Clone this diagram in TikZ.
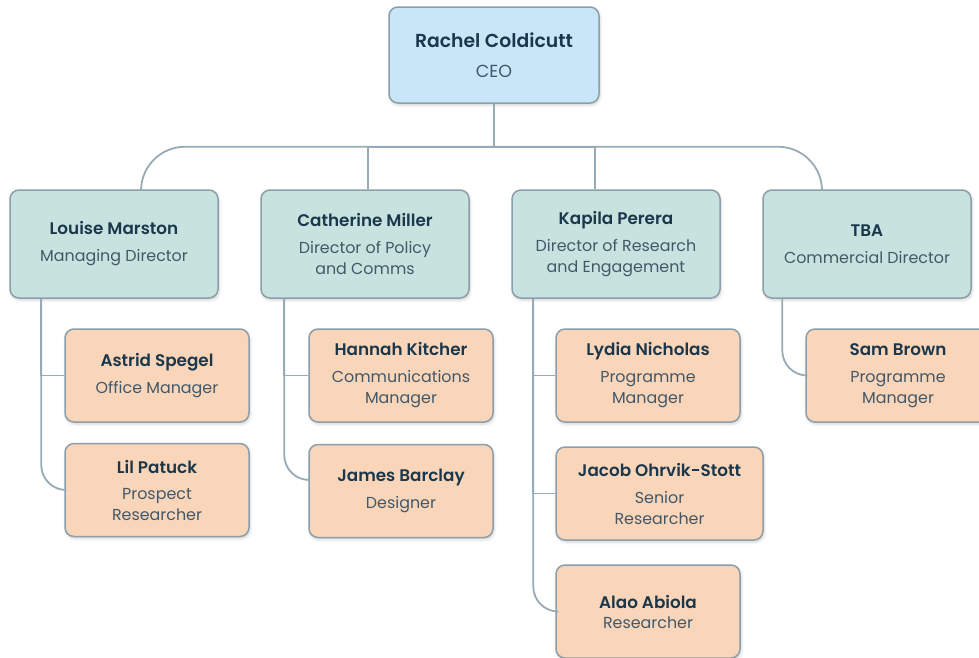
\documentclass[tikz,border=0pt]{standalone}
\usepackage{fontspec}
\setmainfont{Poppins}[BoldFont={Poppins SemiBold}]
\usetikzlibrary{shadows.blur}
\definecolor{ceofill}{RGB}{201,230,248}
\definecolor{dirfill}{RGB}{200,227,223}
\definecolor{stafffill}{RGB}{249,213,186}
\definecolor{edge}{RGB}{140,158,170}
\definecolor{linec}{RGB}{152,170,181}
\definecolor{namec}{RGB}{27,55,75}
\definecolor{titlec}{RGB}{66,88,104}
\newcommand\nm[1]{{\fontsize{16.8}{21}\selectfont\bfseries\color{namec}#1}}
\begin{document}
\begin{tikzpicture}[x=1pt,y=-1pt,
  box/.style={draw=edge, line width=1.5pt, rounded corners=9pt, align=center,
    text=titlec, inner sep=0pt,
    blur shadow={shadow xshift=1pt, shadow yshift=-2pt, shadow opacity=18, shadow blur radius=3pt}},
  ceobox/.style={box, fill=ceofill, minimum width=210pt, minimum height=96pt,
    font=\fontsize{17.5}{21}\selectfont},
  dirbox/.style={box, fill=dirfill, minimum width=208pt, minimum height=108pt,
    font=\fontsize{15.9}{21}\selectfont},
  staffbox/.style={box, fill=stafffill, minimum width=184pt, minimum height=93pt,
    font=\fontsize{15.9}{21}\selectfont},
  conn/.style={draw=linec, line width=1.8pt}]
\useasboundingbox (0,0) rectangle (979,657);
\clip (0,0) rectangle (979,657);

\node[ceobox] (ceo) at (494,55) {{\fontsize{18.8}{21}\selectfont\bfseries\color{namec}Rachel Coldicutt}\\[9pt]CEO};

\node[dirbox] (louise) at (114,244) {\nm{Louise Marston}\\[6pt]Managing Director};
\node[dirbox] (cath) at (365,244) {\nm{Catherine Miller}\\[6pt]Director of Policy\\and Comms};
\node[dirbox] (kapila) at (616,244) {\nm{Kapila Perera}\\[6pt]Director of Research\\and Engagement};
\node[dirbox] (tba) at (867,244) {\nm{TBA}\\[6pt]Commercial Director};

\node[staffbox] (astrid) at (157,375.5) {\nm{Astrid Spegel}\\[6pt]Office Manager};
\node[staffbox] (lil) at (157,490) {\nm{Lil Patuck}\\[5pt]Prospect\\Researcher};
\node[staffbox] (hannah) at (401,375.5) {\nm{Hannah Kitcher}\\[6pt]Communications\\Manager};
\node[staffbox] (james) at (401,491) {\nm{James Barclay}\\[6pt]Designer};
\node[staffbox] (lydia) at (648,375.5) {\nm{Lydia Nicholas}\\[6pt]Programme\\Manager};
\node[staffbox, minimum width=207pt] (jacob) at (659.5,493.5) {\nm{Jacob Ohrvik-Stott}\\[6pt]Senior\\Researcher};
\node[staffbox] (alao) at (648,611.5) {\nm{Alao Abiola}\\[-1pt]Researcher};
\node[staffbox] (sam) at (898,375.5) {\nm{Sam Brown}\\[6pt]Programme\\Manager};

% top level connectors
\coordinate (bus) at ([yshift=-43pt]ceo.south);
\draw[conn] (ceo.south) -- (bus);
\draw[conn, rounded corners=44pt] (bus) -| ([xshift=27pt]louise.north);
\draw[conn, rounded corners=44pt] (bus) -| ([xshift=-45pt]tba.north);
\draw[conn] ([xshift=3pt]cath.north) |- (bus);
\draw[conn] ([xshift=-21pt]kapila.north) |- (bus);

% Louise
\draw[conn] ([xshift=32pt]louise.south west) |- (astrid.west);
\draw[conn, rounded corners=25pt] ([xshift=32pt]louise.south west) |- (lil.west);
% Catherine
\draw[conn] ([xshift=24pt]cath.south west) |- (hannah.west);
\draw[conn, rounded corners=25pt] ([xshift=24pt]cath.south west) |- ([yshift=11pt]james.west);
% Kapila
\draw[conn] ([xshift=22pt]kapila.south west) |- (lydia.west);
\draw[conn] ([xshift=22pt]kapila.south west) |- (jacob.west);
\draw[conn, rounded corners=25pt] ([xshift=22pt]kapila.south west) |- (alao.west);
% TBA
\draw[conn, rounded corners=25pt] ([xshift=20pt]tba.south west) |- (sam.west);
\end{tikzpicture}
\end{document}
